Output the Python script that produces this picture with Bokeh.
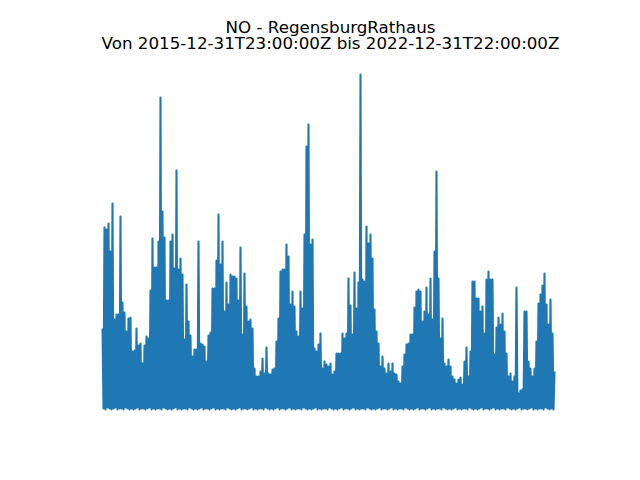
import numpy as np
import pandas as pd
from bokeh.plotting import figure
from bokeh.models import ColumnDataSource, Range1d, Label
from bokeh.embed import file_html
from bokeh.resources import INLINE

# --- data (NO in µg/m³, hourly series summarised) ---
title_line1 = "NO - RegensburgRathaus"
title_line2 = "Von 2015-12-31T23:00:00Z bis 2022-12-31T22:00:00Z"
start_time = "2015-12-31T23:00:00"
end_time = "2022-12-31T22:00:00"

peak_values = [
    81, 182, 180, 186, 158, 206, 90, 95, 95, 193,
    107, 97, 78, 91, 92, 58, 59, 81, 64, 66,
    46, 64, 73, 71, 119, 171, 142, 142, 168, 312,
    198, 172, 109, 109, 168, 175, 141, 239, 140, 151,
    135, 70, 125, 88, 74, 53, 60, 60, 168, 66,
    65, 63, 48, 74, 77, 121, 121, 149, 195, 145,
    168, 98, 127, 105, 135, 133, 133, 131, 109, 162,
    75, 136, 103, 88, 90, 81, 41, 33, 33, 38,
    51, 36, 62, 36, 35, 40, 41, 68, 91, 138,
    140, 140, 165, 153, 105, 118, 103, 78, 73, 118,
    101, 175, 263, 285, 165, 170, 61, 58, 65, 76,
    41, 48, 45, 43, 46, 35, 38, 56, 56, 56,
    76, 71, 76, 131, 104, 75, 137, 101, 127, 335,
    130, 128, 183, 166, 175, 151, 100, 78, 66, 43,
    53, 41, 36, 46, 38, 46, 36, 35, 28, 26,
    43, 55, 65, 66, 75, 75, 102, 118, 120, 118,
    88, 98, 122, 95, 131, 90, 158, 238, 131, 71,
    91, 46, 43, 50, 43, 33, 30, 26, 30, 32,
    25, 48, 62, 33, 58, 128, 128, 111, 111, 98,
    103, 76, 130, 138, 130, 130, 55, 82, 92, 85,
    96, 78, 56, 33, 36, 28, 33, 122, 16, 19,
    20, 98, 98, 48, 41, 33, 41, 68, 106, 115,
    124, 136, 105, 85, 110, 76, 38,
]

trough_values = [
    1, 0, 2, 1, 0, 1, 2, 0, 1, 1,
    0, 2, 1, 0, 1, 0, 1, 2, 0, 1,
    1, 0, 1, 2, 0, 1, 0, 1, 1, 0,
    2, 1, 0, 1, 0, 1, 2, 0, 1, 0,
    1, 1, 0, 2, 1, 0, 1, 0, 1, 2,
    0, 1, 1, 0, 1, 2, 0, 1, 0, 1,
    1, 0, 2, 1, 0, 1, 0, 1, 2, 0,
    1, 1, 0, 1, 2, 0, 1, 0, 1, 1,
    0, 2, 1, 0, 1, 0, 1, 2, 0, 1,
    1, 0, 1, 2, 0, 1, 0, 1, 1, 0,
    2, 1, 0, 1, 0, 1, 2, 0, 1, 0,
    1, 1, 0, 2, 1, 0, 1, 0, 1, 2,
    0, 1, 1, 0, 1, 2, 0, 1, 0, 1,
    1, 0, 2, 1, 0, 1, 0, 1, 2, 0,
    1, 1, 0, 1, 2, 0, 1, 0, 1, 1,
    0, 2, 1, 0, 1, 0, 1, 2, 0, 1,
    1, 0, 1, 2, 0, 1, 0, 1, 1, 0,
    2, 1, 0, 1, 0, 1, 2, 0, 1, 0,
    1, 1, 0, 2, 1, 0, 1, 0, 1, 2,
    0, 1, 1, 0, 1, 2, 0, 1, 0, 1,
    1, 0, 2, 1, 0, 1, 0, 1, 2, 0,
    1, 1, 0, 1, 2, 0, 1, 0, 1, 1,
    0, 2, 1, 0, 1, 0,
]

# interleave peaks and troughs on a regular time grid
values = []
for i, pk in enumerate(peak_values):
    values.append(pk)
    if i < len(trough_values):
        values.append(trough_values[i])
t0 = pd.Timestamp(start_time)
t1 = pd.Timestamp(end_time)
times = pd.date_range(t0, t1, periods=len(values))

source = ColumnDataSource(data=dict(time=times, no=values))

# --- layout: frame = whole canvas; ranges chosen so data lands where it should ---
W, H = 624, 464
x_left_px, x_right_px = 102, 554      # line centres of first / last sample
ms_span = (t1 - t0) / pd.Timedelta(milliseconds=1)
mpp = ms_span / (x_right_px - x_left_px)
t0_ms = (t0 - pd.Timestamp("1970-01-01")) / pd.Timedelta(milliseconds=1)
t1_ms = t0_ms + ms_span
x_range = Range1d(t0_ms - x_left_px * mpp, t1_ms + (W - x_right_px) * mpp)

zero_px = 409   # canvas y (from top) of value 0
y_range = Range1d(-(H - zero_px), zero_px)

p = figure(width=W, height=H, x_range=x_range, y_range=y_range,
           x_axis_location=None, y_axis_location=None,
           toolbar_location=None, output_backend="svg",
           min_border=0, min_border_left=0, min_border_right=0,
           min_border_top=0, min_border_bottom=0)
p.grid.visible = False
p.outline_line_color = None
p.background_fill_color = "white"
p.border_fill_color = "white"

p.line("time", "no", source=source, line_color="#1f77b4", line_width=2.1,
       line_join="round")

title_font = "DejaVu Sans"
p.add_layout(Label(x=330, y=H - 26, x_units="screen", y_units="screen",
                   text=title_line1, text_align="center",
                   text_baseline="alphabetic", text_font=title_font,
                   text_font_size="16.7px", text_color="black"))
p.add_layout(Label(x=330, y=H - 42, x_units="screen", y_units="screen",
                   text=title_line2, text_align="center",
                   text_baseline="alphabetic", text_font=title_font,
                   text_font_size="16.7px", text_color="black"))

open("out.html", "w").write(file_html(p, INLINE))
